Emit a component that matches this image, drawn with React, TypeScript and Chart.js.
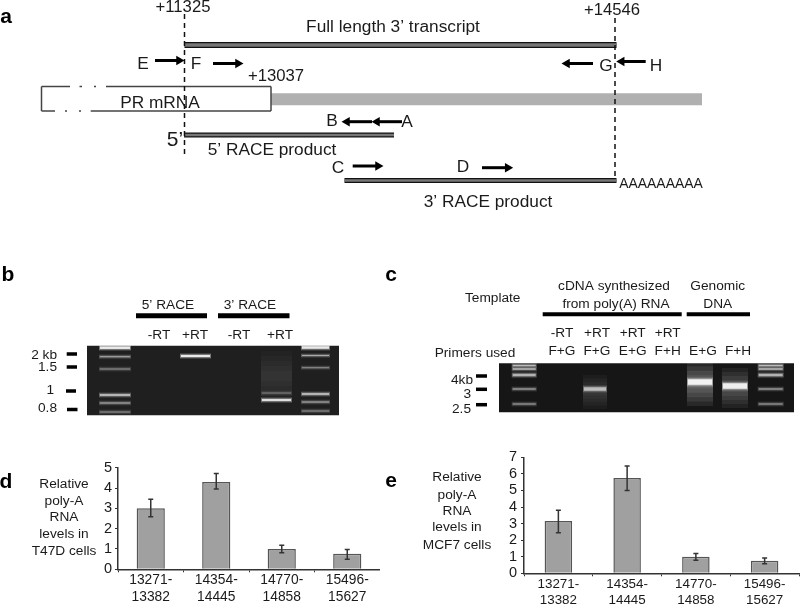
import React, { useEffect, useRef } from "react";
import { Chart, registerables } from "chart.js";

Chart.register(...registerables);

const FONT = '"Liberation Sans", Arial, sans-serif';

// ---- bar panels ----
const regions = [["13271-", "13382"], ["14354-", "14445"], ["14770-", "14858"], ["15496-", "15627"]];
const t47dValues = [3.0, 4.3, 1.0, 0.77];
const t47dLow = [2.58, 3.95, 0.82, 0.5];
const t47dHigh = [3.45, 4.72, 1.18, 0.97];
const mcf7Values = [3.15, 5.75, 1.0, 0.75];
const mcf7Low = [2.45, 5.0, 0.78, 0.58];
const mcf7High = [3.8, 6.48, 1.2, 0.92];

// ---- schematic panel a: [from, to, level] ----
const fullLengthSpan = [184.5, 616.5, 45];
const fiveRaceSpan = [184, 394, 135];
const threeRaceSpan = [344.5, 616.5, 180.5];
const grayUtrSpan = [271, 702, 99.3];
const primersForward = [[155, 184, 60.5], [213, 243, 63.5], [352.7, 383, 166], [482, 512.7, 167.7]];
const primersReverse = [[562, 593, 63.5], [616.7, 645.7, 61.5], [342, 372, 121.7], [372, 402, 121.7]];
const boundaries = [[184.5, 14, 155], [615, 18, 176]];
const mrnaBoxLines = [
  [41.5, 70, 86.5], [79.5, 82, 86.5], [94, 96, 86.5], [106, 271, 86.5],
  [41.5, 55, 111], [65, 67, 111], [79, 81, 111], [90.7, 271, 111],
];
const mrnaBoxSides = [[41.5, 86.5, 111], [271, 86.5, 111]];

// ---- gels ----
const gelB = [87, 339, 345.7, 415.3];
const gelC = [499, 794, 363.3, 412.3];
const gelHeaders = [[136, 207, 315.7, 5], [218, 289.5, 315.7, 5], [542.7, 681.7, 314.3, 4], [686.7, 750, 314.3, 4]];
const sizeTicks = [
  [66.7, 77, 354], [66.7, 77, 367], [66, 76, 391], [67, 77.5, 409.5],
  [476, 487, 376], [476, 487, 389.3], [476, 487, 404.7],
];
// [from, to, level, thickness, brightness]
const gelBands = [
  [99, 131, 347.7, 2.5, 1], [99, 131, 356.7, 1, 0.6], [99, 131, 369, 1, 0.45],
  [99, 131, 395, 1.5, 0.8], [99, 131, 403, 1, 0.6], [99, 131, 412, 1, 0.45],
  [301, 330, 347.5, 2.5, 1], [301, 330, 355.5, 1, 0.6], [301, 330, 367.7, 1, 0.45],
  [301, 330, 394, 1.5, 0.8], [301, 330, 402, 1, 0.6], [301, 330, 411, 1, 0.45],
  [180, 211, 356, 2, 1],
  [261, 292, 393, 1, 0.35], [261, 292, 400, 2, 0.9],
  [511.7, 536.7, 365.5, 1.5, 0.7], [511.7, 536.7, 369, 1.5, 0.7], [511.7, 536.7, 375, 2.5, 0.65],
  [511.7, 536.7, 389, 1.5, 0.5], [511.7, 536.7, 404, 1.5, 0.45],
  [757.7, 783.7, 365.5, 1.5, 0.7], [757.7, 783.7, 369, 1.5, 0.7], [757.7, 783.7, 375, 2.5, 0.65],
  [757.7, 783.7, 389, 1.5, 0.5], [757.7, 783.7, 404, 1.5, 0.45],
  [583, 607, 389, 3.5, 0.65],
  [687, 713, 382, 5.5, 1],
  [722, 748, 386, 5.5, 1],
];
// [from, to, level, thickness, alpha]
const gelSmears = [
  [261, 292, 376, 50, 0.1],
  [583, 607, 392, 34, 0.16],
  [687, 713, 384, 44, 0.4],
  [722, 748, 388, 40, 0.3],
];

// ---- text: [label, x, y] ----
const panelLetters = [["a", 6, 17], ["b", 8, 275], ["c", 391, 275], ["d", 6, 482], ["e", 391, 481]];
const coordinateLabels = [["+11325", 183, 7], ["+14546", 612, 10], ["+13037", 276, 76]];
const diagramLabels = [
  ["Full length 3\u2019 transcript", 393, 27],
  ["E", 143, 64], ["F", 196, 64], ["PR mRNA", 160, 103],
  ["B", 332, 121], ["A", 407, 122], ["5\u2019 RACE product", 272, 150], ["C", 338, 168],
  ["D", 463, 167], ["G", 606, 66], ["H", 656, 66], ["3\u2019 RACE product", 488, 202],
];
const polyALabel = [["AAAAAAAAA", 661, 184]];
const fivePrimeLabel = [["5\u2019", 175, 140]];
const smallLabels = [
  ["5\u2019 RACE", 168, 305], ["3\u2019 RACE", 250, 305],
  ["-RT", 159, 335.7], ["+RT", 195, 335.7], ["-RT", 239, 335.7], ["+RT", 280, 335.7],
  ["Template", 492.7, 298], ["cDNA synthesized", 614, 286.7], ["from poly(A) RNA", 616, 304],
  ["Genomic", 717.7, 286.7], ["DNA", 717.7, 304], ["Primers used", 475, 353],
  ["-RT", 562, 333.3], ["+RT", 597, 333.3], ["+RT", 632.7, 333.3], ["+RT", 667.7, 333.3],
  ["F+G", 562, 351.7], ["F+G", 597, 351.7], ["E+G", 632.7, 351.7], ["F+H", 667.7, 351.7],
  ["E+G", 703, 351.7], ["F+H", 738, 351.7],
  ["Relative", 64, 484.7], ["poly-A", 64, 501], ["RNA", 64, 517.7], ["levels in", 64, 534.7], ["T47D cells", 64, 551],
  ["Relative", 457, 477], ["poly-A", 457, 495], ["RNA", 457, 511], ["levels in", 457, 527.7], ["MCF7 cells", 457, 545],
];
const sizeLabels = [
  ["2 kb", 57, 355], ["1.5", 57, 367], ["1", 54, 390], ["0.8", 57, 408],
  ["4kb", 473, 380], ["3", 471, 394], ["2.5", 471, 409],
];

const hLine = (x1: number, x2: number, y: number, color: string, width: number, dash?: number[]) => ({
  data: [{ x: x1, y }, { x: x2, y }],
  showLine: true, borderColor: color, borderWidth: width, borderDash: dash || [],
  pointRadius: 0, borderCapStyle: "butt" as const,
});
const vLine = (x: number, y1: number, y2: number, color: string, width: number, dash?: number[]) => ({
  data: [{ x, y: y1 }, { x, y: y2 }],
  showLine: true, borderColor: color, borderWidth: width, borderDash: dash || [],
  pointRadius: 0, borderCapStyle: "butt" as const,
});
const arrowHead = (x: number, y: number, rotation: number) => ({
  data: [{ x, y }],
  showLine: false, pointStyle: "triangle", pointRadius: 5.5, rotation,
  backgroundColor: "#000", borderColor: "#000", borderWidth: 0,
});

function schematicDatasets() {
  const out: any[] = [];
  out.push(hLine(grayUtrSpan[0], grayUtrSpan[1], grayUtrSpan[2], "#b0b0b0", 12));
  for (const [a, b, y] of mrnaBoxLines) out.push(hLine(a, b, y, "#444", 1.5));
  for (const [x, a, b] of mrnaBoxSides) out.push(vLine(x, a, b, "#444", 1.5));
  for (const [a, b, y] of [fullLengthSpan, fiveRaceSpan, threeRaceSpan]) {
    out.push(hLine(a, b, y, "#111", y === 45 ? 6 : 5));
    out.push(hLine(a, b, y, "#777", y === 45 ? 3.5 : 2.5));
  }
  for (const [x, a, b] of boundaries) out.push(vLine(x, a, b, "#111", 1.5, [5, 4]));
  for (const [a, b, y] of primersForward) {
    out.push(hLine(a, b - 7, y, "#000", 3));
    out.push(arrowHead(b - 5, y, 90));
  }
  for (const [a, b, y] of primersReverse) {
    out.push(hLine(a + 7, b, y, "#000", 3));
    out.push(arrowHead(a + 5, y, -90));
  }
  for (const [a, b, y, t] of gelHeaders) out.push(hLine(a, b, y, "#000", t));
  for (const [a, b, y] of sizeTicks) out.push(hLine(a, b, y, "#000", 3.5));
  out.push(hLine(gelB[0], gelB[1], (gelB[2] + gelB[3]) / 2, "#1f1f1f", gelB[3] - gelB[2]));
  out.push(hLine(gelC[0], gelC[1], (gelC[2] + gelC[3]) / 2, "#161616", gelC[3] - gelC[2]));
  for (const [a, b, y, t, alpha] of gelSmears) {
    for (const k of [1, 0.8, 0.6, 0.4, 0.2]) {
      out.push(hLine(a, b, y, `rgba(255,255,255,${alpha / 5})`, t * k));
    }
  }
  for (const [a, b, y, t, v] of gelBands) {
    out.push(hLine(a, b, y, `rgba(255,255,255,${0.14 * v})`, t + 4));
    out.push(hLine(a, b, y, `rgba(255,255,255,${0.3 * v})`, t + 2));
    out.push(hLine(a + 1, b - 1, y, `rgba(255,255,255,${0.85 * v})`, t));
  }
  // Chart.js paints the first dataset last, so reverse to paint in list order.
  return out.reverse();
}

const textPlugin = {
  id: "figureText",
  afterDatasetsDraw(chart: any) {
    const { ctx } = chart;
    const xs = chart.scales.x;
    const ys = chart.scales.y;
    const put = (list: any[], font: string, align: string, color: string) => {
      ctx.font = `${font} ${FONT}`;
      ctx.textAlign = align;
      ctx.fillStyle = color;
      for (const [t, x, y] of list) ctx.fillText(t, xs.getPixelForValue(x), ys.getPixelForValue(y));
    };
    ctx.save();
    ctx.textBaseline = "middle";
    put(coordinateLabels, "16.7px", "center", "#1a1a1a");
    put(diagramLabels, "17.3px", "center", "#1a1a1a");
    put(polyALabel, "13.9px", "center", "#1a1a1a");
    put(fivePrimeLabel, "21px", "center", "#1a1a1a");
    put(smallLabels, "13.7px", "center", "#1a1a1a");
    put(sizeLabels, "13.7px", "right", "#1a1a1a");
    put(panelLetters, "bold 21px", "center", "#000");
    ctx.restore();
  },
};

const errorBarPlugin = {
  id: "errorBars",
  afterDatasetsDraw(chart: any) {
    const { ctx } = chart;
    const ds = chart.data.datasets[0];
    const meta = chart.getDatasetMeta(0);
    const y = chart.scales.y;
    ctx.save();
    ctx.strokeStyle = "#333";
    ctx.lineWidth = 1.5;
    meta.data.forEach((bar: any, i: number) => {
      const lo = y.getPixelForValue(ds.errorLow[i]);
      const hi = y.getPixelForValue(ds.errorHigh[i]);
      ctx.beginPath();
      ctx.moveTo(bar.x, lo); ctx.lineTo(bar.x, hi);
      ctx.moveTo(bar.x - 2.5, lo); ctx.lineTo(bar.x + 2.5, lo);
      ctx.moveTo(bar.x - 2.5, hi); ctx.lineTo(bar.x + 2.5, hi);
      ctx.stroke();
    });
    ctx.restore();
  },
};

function barConfig(values: number[], low: number[], high: number[], max: number, opts: any) {
  return {
    type: "bar" as const,
    data: {
      labels: regions,
      datasets: [{
        data: values,
        errorLow: low,
        errorHigh: high,
        backgroundColor: "#a0a0a0",
        borderColor: "#555",
        borderWidth: 1.5,
        barPercentage: opts.barPct,
        categoryPercentage: 1,
      }],
    },
    plugins: [errorBarPlugin],
    options: {
      animation: false as const,
      responsive: false,
      layout: { padding: { top: opts.top, right: opts.right, left: 0, bottom: 0 } },
      plugins: { legend: { display: false }, tooltip: { enabled: false } },
      scales: {
        x: {
          afterFit: (s: any) => { s.height = opts.xHeight; },
          border: { color: "#333", width: 1.5 },
          grid: { drawOnChartArea: false, color: "#333", tickLength: 3 },
          ticks: { color: "#1a1a1a", font: { family: FONT, size: opts.xFont }, padding: 0, autoSkip: false, maxRotation: 0, minRotation: 0 },
        },
        y: {
          min: 0, max,
          afterFit: (s: any) => { s.width = opts.yWidth; },
          border: { color: "#333", width: 1.5 },
          grid: { drawOnChartArea: false, color: "#333", tickLength: 3 },
          ticks: { stepSize: 1, autoSkip: false, color: "#1a1a1a", font: { family: FONT, size: 14.5 }, padding: opts.yPad },
        },
      },
    },
  };
}

export default function App() {
  const figRef = useRef<HTMLCanvasElement>(null);
  const dRef = useRef<HTMLCanvasElement>(null);
  const eRef = useRef<HTMLCanvasElement>(null);

  useEffect(() => {
    const fig = new Chart(figRef.current!, {
      type: "scatter",
      data: { datasets: schematicDatasets() },
      plugins: [textPlugin],
      options: {
        animation: false,
        responsive: false,
        clip: false,
        layout: { padding: 0, autoPadding: false },
        plugins: { legend: { display: false }, tooltip: { enabled: false } },
        scales: {
          x: { type: "linear", min: 0, max: 800, display: false },
          y: { type: "linear", min: 0, max: 606, reverse: true, display: false },
        },
      } as any,
    });
    const d = new Chart(dRef.current!, barConfig(t47dValues, t47dLow, t47dHigh, 5, {
      barPct: 0.43, top: 17.7, right: 0, xHeight: 36.7, yWidth: 30, yPad: 3, xFont: 13.8,
    }) as any);
    const e = new Chart(eRef.current!, barConfig(mcf7Values, mcf7Low, mcf7High, 7, {
      barPct: 0.4, top: 17.3, right: 1, xHeight: 32.7, yWidth: 30, yPad: 4, xFont: 13.4,
    }) as any);
    return () => { fig.destroy(); d.destroy(); e.destroy(); };
  }, []);

  const abs = (left: number, top: number): React.CSSProperties => ({ position: "absolute", left, top, display: "block" });
  return (
    <div style={{ position: "absolute", left: 0, top: 0, width: 800, height: 606, overflow: "hidden", background: "#fff" }}>
      <canvas ref={figRef} width={800} height={606} style={abs(0, 0)} />
      <canvas ref={dRef} width={292} height={156} style={abs(88, 450)} />
      <canvas ref={eRef} width={306} height={166} style={abs(494, 440)} />
    </div>
  );
}
